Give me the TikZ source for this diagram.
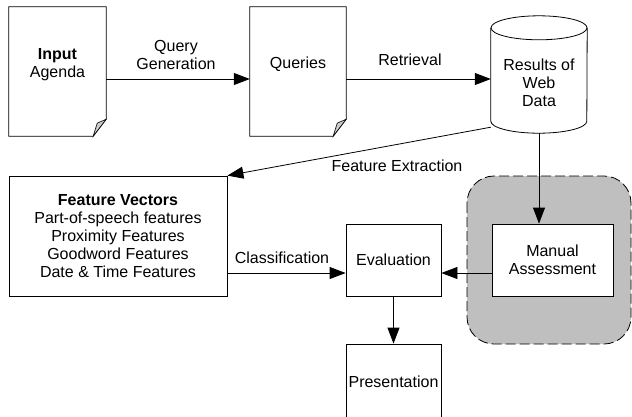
\documentclass[tikz,border=0pt]{standalone}
\usepackage{fontspec}
\setmainfont{Liberation Sans}
\usetikzlibrary{arrows.meta}

\begin{document}
\begin{tikzpicture}[x=1pt,y=-1pt,font=\fontsize{16}{18}\selectfont,
  box/.style={draw,line width=0.8pt,fill=white,inner sep=0pt,align=center},
  sheet/.style={inner sep=0pt,minimum width=97pt,minimum height=129pt},
  arr/.style={line width=0.8pt,-{Triangle[length=16pt,width=12pt]}},
  txt/.style={align=center,inner sep=1pt}]
  \useasboundingbox (0,0) rectangle (632,416);
  % manual step region
  \draw[line width=0.8pt,dash pattern=on 10pt off 4pt,fill=black!25,rounded corners=27pt] (467,176) rectangle (631,344);
  \node[sheet] (inp) at (57.5,71.5) {}; \node[sheet,minimum width=96pt] (qry) at (298,71.5) {};
  \foreach \d in {inp,qry} {
    \draw[line width=0.8pt,fill=white] (\d.north west) -- (\d.north east) -- ([yshift=17pt]\d.south east) -- ([xshift=-13pt]\d.south east) -- (\d.south west) -- cycle;
    \draw[line width=0.6pt,fill=black!20] ([yshift=17pt]\d.south east) -- ([xshift=-13pt]\d.south east) -- ([xshift=-9pt,yshift=13pt]\d.south east) -- cycle; }
  \node[txt] (inpTxt) at (57.5,65) {\textbf{Input}\\Agenda}; \node[txt] (qryTxt) at (298,64) {Queries};
  % web data store
  \node[inner sep=0pt,minimum width=96pt,minimum height=117pt] (web) at (539,74.5) {};
  \draw[line width=0.8pt,fill=white] ([yshift=-12pt]web.north west) -- ([yshift=12pt]web.south west) arc[start angle=180,end angle=360,x radius=48pt,y radius=12pt] -- ([yshift=-12pt]web.north east);
  \draw[line width=0.8pt,fill=white] ([yshift=-12pt]web.north) ellipse[x radius=48pt,y radius=12pt];
  \node[txt] (webTxt) at (539,83) {Results of\\Web\\Data};
  \node[box,minimum width=218pt,minimum height=120pt] (fv) at (118,236) {\textbf{Feature Vectors}\\Part-of-speech features\\Proximity Features\\Goodword Features\\Date \& Time Features};
  \node[box,minimum width=95pt,minimum height=72pt] (ev) at (393.5,260) {Evaluation};
  \node[box,minimum width=121pt,minimum height=72pt] (ma) at (552.5,260) {Manual\\Assessment};
  \node[box,minimum width=95pt,minimum height=76pt] (pres) at (393.5,382) {Presentation};
  \coordinate (evIn) at ([yshift=-13pt]ev.west); \coordinate (evIn2) at ([yshift=-13pt]ev.east);
  \draw[arr] ([yshift=-7.5pt]inp.east) -- ([yshift=-7.5pt]qry.west);
  \draw[arr] ([yshift=-7.5pt]qry.east) -- ([yshift=-4.5pt]web.west);
  \draw[arr] ([yshift=6pt]web.south west) -- (fv.north east);
  \draw[arr] (web.south) -- (web.south |- ma.north);
  \draw[arr] (fv.east |- evIn) -- (evIn); \draw[arr] (ma.west |- evIn2) -- (evIn2);
  \draw[arr] (ev) -- (pres);
  \node[txt] (qgLbl) at (176,55) {Query\\Generation}; \node[txt] (retLbl) at (410,60) {Retrieval};
  \node[txt] (feLbl) at (397,166) {Feature Extraction}; \node[txt] (clsLbl) at (282,258) {Classification};
\end{tikzpicture}
\end{document}
